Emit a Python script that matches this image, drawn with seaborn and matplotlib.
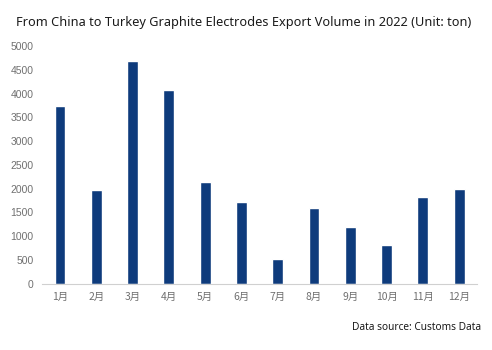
import matplotlib
matplotlib.use("Agg")
import matplotlib.pyplot as plt
import seaborn as sns
import pandas as pd

months = ["1月", "2月", "3月", "4月", "5月", "6月", "7月", "8月", "9月", "10月", "11月", "12月"]
volume = [3750, 1970, 4690, 4075, 2140, 1715, 515, 1585, 1190, 810, 1820, 1985]
y_ticks = [0, 500, 1000, 1500, 2000, 2500, 3000, 3500, 4000, 4500, 5000]

sns.set_theme(style="white")
plt.rcParams["font.family"] = ["Noto Sans CJK SC", "DejaVu Sans"]

df = pd.DataFrame({"month": months, "volume": volume})

fig = plt.figure(figsize=(4.92, 3.5), dpi=100)
ax = fig.add_axes([0.085, 0.19, 0.885, 0.678])

sns.barplot(data=df, x="month", y="volume", color="#0E3B7C", width=0.3,
            saturation=1, ax=ax)

ax.set_ylim(0, 5000)
ax.set_yticks(y_ticks)
ax.set_xlim(-0.5, len(months) - 0.5)
ax.set_xlabel("")
ax.set_ylabel("")
for s in ["top", "right", "left"]:
    ax.spines[s].set_visible(False)
ax.spines["bottom"].set_color("#D0D0D0")
ax.spines["bottom"].set_linewidth(0.8)
ax.tick_params(axis="both", length=0, labelsize=7.5, labelcolor="#707070")
ax.tick_params(axis="x", pad=6)
ax.tick_params(axis="y", pad=6)
for lbl in ax.get_yticklabels():
    lbl.set_family(["Liberation Sans", "DejaVu Sans"])

fig.text(0.033, 0.935, "From China to Turkey Graphite Electrodes Export Volume in 2022 (Unit: ton)",
         fontsize=9.2, color="#1A1A1A", ha="left", va="center",
         family=["Noto Sans", "DejaVu Sans"])
fig.text(0.977, 0.065, "Data source: Customs Data", fontsize=7.3, color="#1A1A1A",
         ha="right", va="center", family=["Noto Sans", "DejaVu Sans"])

fig.savefig("out.png", dpi=100)
